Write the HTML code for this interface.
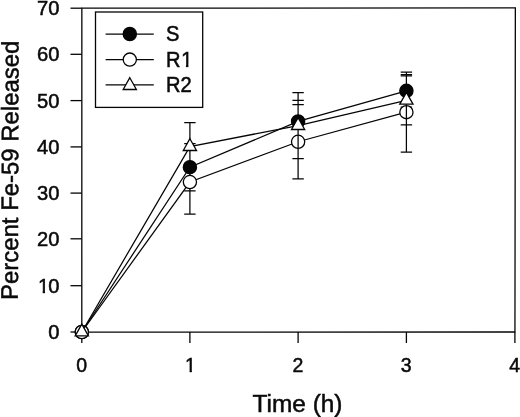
<!DOCTYPE html>
<html><head><meta charset="utf-8"><title>Percent Fe-59 Released vs Time</title>
<style>html,body{margin:0;padding:0;background:#fff}body{width:520px;height:417px;overflow:hidden}</style></head>
<body>
<svg width="520" height="417" viewBox="0 0 520 417" style="display:block">
<rect width="520" height="417" fill="#fff"/>
<g fill="none" stroke="#050505" stroke-width="1.3">
<path d="M81.85 8.2 L515.35 7.8 L514.95 332 L81.8 332.15 Z" stroke-linejoin="miter"/>
<line x1="81.8" y1="332.0" x2="81.8" y2="343.0"/>
<line x1="189.9" y1="332.0" x2="189.9" y2="343.0"/>
<line x1="298.1" y1="332.0" x2="298.1" y2="343.0"/>
<line x1="406.4" y1="332.0" x2="406.4" y2="343.0"/>
<line x1="514.9" y1="332.0" x2="514.9" y2="343.0"/>
<line x1="70.5" y1="332.0" x2="81.8" y2="332.0"/>
<line x1="70.5" y1="285.7" x2="81.8" y2="285.7"/>
<line x1="70.5" y1="238.8" x2="81.8" y2="238.8"/>
<line x1="70.5" y1="193.1" x2="81.8" y2="193.1"/>
<line x1="70.5" y1="146.9" x2="81.8" y2="146.9"/>
<line x1="70.5" y1="100.6" x2="81.8" y2="100.6"/>
<line x1="70.5" y1="54.3" x2="81.8" y2="54.3"/>
<line x1="70.5" y1="8.2" x2="81.8" y2="8.2"/>
</g>
<g font-family="'Liberation Sans', Arial, sans-serif" font-size="19.5" fill="#0a0a0a" stroke="#0a0a0a" stroke-width="0.5">
<text transform="translate(59.4,339.0) scale(1.035,1)" text-anchor="end">0</text>
<clipPath id="c1"><rect x="39.11" y="277.11" width="6.20" height="13.89"/><rect x="42.70" y="290.41" width="2.32" height="3.25"/></clipPath><g clip-path="url(#c1)"><text transform="translate(37.90,292.71) scale(1.035,1)" font-size="19.5">1</text></g>
<text transform="translate(59.4,292.7) scale(1.035,1)" text-anchor="end">0</text>
<text transform="translate(59.4,245.8) scale(1.035,1)" text-anchor="end">20</text>
<text transform="translate(59.4,200.1) scale(1.035,1)" text-anchor="end">30</text>
<text transform="translate(59.4,153.9) scale(1.035,1)" text-anchor="end">40</text>
<text transform="translate(59.4,107.6) scale(1.035,1)" text-anchor="end">50</text>
<text transform="translate(59.4,61.3) scale(1.035,1)" text-anchor="end">60</text>
<text transform="translate(59.4,15.0) scale(1.035,1)" text-anchor="end">70</text>
<text x="81.6" y="371.8" text-anchor="middle">0</text>
<clipPath id="c2"><rect x="186.17" y="356.20" width="6.00" height="13.89"/><rect x="189.62" y="369.50" width="2.25" height="3.25"/></clipPath><g clip-path="url(#c2)"><text transform="translate(185.00,371.80)" font-size="19.5">1</text></g>
<text x="297.9" y="371.8" text-anchor="middle">2</text>
<text x="406.2" y="371.8" text-anchor="middle">3</text>
<text x="514.7" y="371.8" text-anchor="middle">4</text>
</g>
<g font-family="'Liberation Sans', Arial, sans-serif" font-size="24" fill="#0a0a0a" stroke="#0a0a0a" stroke-width="0.5">
<text transform="translate(297.5,411.6) scale(1.018,1)" text-anchor="middle">Time (h)</text>
<text transform="translate(18.2,170.3) rotate(-89.85)" font-size="23.93" text-anchor="middle">Percent Fe-59 Released</text>
</g>
<polyline points="81.8,332.00 189.9,167.22 298.1,121.40 406.4,90.85" fill="none" stroke="#050505" stroke-width="1.25"/>
<path d="M189.9 143.62 V190.83 M184.2 143.62 H195.6 M184.2 190.83 H195.6" fill="none" stroke="#050505" stroke-width="1.25"/>
<path d="M298.1 100.34 V142.46 M292.4 100.34 H303.8 M292.4 142.46 H303.8" fill="none" stroke="#050505" stroke-width="1.25"/>
<path d="M406.4 74.65 V107.05 M400.7 74.65 H412.1 M400.7 107.05 H412.1" fill="none" stroke="#050505" stroke-width="1.25"/>
<circle cx="81.8" cy="332.00" r="6.6" fill="#050505" stroke="#050505" stroke-width="1.3"/>
<circle cx="189.9" cy="167.22" r="6.6" fill="#050505" stroke="#050505" stroke-width="1.3"/>
<circle cx="298.1" cy="121.40" r="6.6" fill="#050505" stroke="#050505" stroke-width="1.3"/>
<circle cx="406.4" cy="90.85" r="6.6" fill="#050505" stroke="#050505" stroke-width="1.3"/>
<polyline points="81.8,332.00 189.9,182.03 298.1,141.77 406.4,112.14" fill="none" stroke="#050505" stroke-width="1.25"/>
<path d="M189.9 190.83 V214.20 M184.2 149.87 H195.6 M184.2 214.20 H195.6" fill="none" stroke="#050505" stroke-width="1.25"/>
<path d="M298.1 142.46 V178.79 M292.4 104.74 H303.8 M292.4 178.79 H303.8" fill="none" stroke="#050505" stroke-width="1.25"/>
<path d="M406.4 72.11 V74.65 M406.4 107.05 V152.18 M400.7 72.11 H412.1 M400.7 152.18 H412.1" fill="none" stroke="#050505" stroke-width="1.25"/>
<circle cx="81.8" cy="332.00" r="6.6" fill="#fff" stroke="#050505" stroke-width="1.3"/>
<circle cx="189.9" cy="182.03" r="6.6" fill="#fff" stroke="#050505" stroke-width="1.3"/>
<circle cx="298.1" cy="141.77" r="6.6" fill="#fff" stroke="#050505" stroke-width="1.3"/>
<circle cx="406.4" cy="112.14" r="6.6" fill="#fff" stroke="#050505" stroke-width="1.3"/>
<polyline points="81.8,332.00 189.9,146.58 298.1,125.57 406.4,100.29" fill="none" stroke="#050505" stroke-width="1.25"/>
<path d="M189.9 122.51 V143.62 M184.2 122.51 H195.6 M184.2 170.65 H195.6" fill="none" stroke="#050505" stroke-width="1.25"/>
<path d="M298.1 92.52 V100.34 M298.1 135.17 V148.37 M292.4 92.52 H303.8 M292.4 158.61 H303.8" fill="none" stroke="#050505" stroke-width="1.25"/>
<path d="M406.4 105.54 V118.74 M400.7 75.76 H412.1 M400.7 124.83 H412.1" fill="none" stroke="#050505" stroke-width="1.25"/>
<path d="M81.8 324.1 L88.4 335.9 L75.2 335.9 Z" fill="#fff" stroke="#050505" stroke-width="1.3" stroke-linejoin="miter"/>
<path d="M189.9 138.7 L196.5 150.5 L183.3 150.5 Z" fill="#fff" stroke="#050505" stroke-width="1.3" stroke-linejoin="miter"/>
<path d="M298.1 117.7 L304.7 129.5 L291.5 129.5 Z" fill="#fff" stroke="#050505" stroke-width="1.3" stroke-linejoin="miter"/>
<path d="M406.4 92.4 L413.0 104.2 L399.8 104.2 Z" fill="#fff" stroke="#050505" stroke-width="1.3" stroke-linejoin="miter"/>
<rect x="95.5" y="12" width="107.2" height="95.4" fill="#fff" stroke="#050505" stroke-width="1.3"/>
<line x1="105.6" y1="34" x2="153.8" y2="34" stroke="#050505" stroke-width="1.25"/>
<circle cx="129.8" cy="34.00" r="6.6" fill="#050505" stroke="#050505" stroke-width="1.3"/>
<g font-family="'Liberation Sans', Arial, sans-serif" font-size="21.2" fill="#0a0a0a" stroke="#0a0a0a" stroke-width="0.5">
<text transform="translate(165.9,41.1) scale(0.95,1)">S</text>
</g>
<line x1="105.6" y1="59.6" x2="153.8" y2="59.6" stroke="#050505" stroke-width="1.25"/>
<circle cx="129.8" cy="59.60" r="6.6" fill="#fff" stroke="#050505" stroke-width="1.3"/>
<g font-family="'Liberation Sans', Arial, sans-serif" font-size="21.2" fill="#0a0a0a" stroke="#0a0a0a" stroke-width="0.5">
<text transform="translate(165.9,66.6) scale(0.95,1)">R</text>
<clipPath id="c3"><rect x="182.17" y="49.64" width="6.50" height="15.13"/><rect x="185.95" y="64.14" width="2.41" height="3.41"/></clipPath><g clip-path="url(#c3)"><text transform="translate(180.90,66.60)" font-size="21.2">1</text></g>
</g>
<line x1="105.6" y1="84.9" x2="153.8" y2="84.9" stroke="#050505" stroke-width="1.25"/>
<path d="M129.8 77.7 L136.4 89.5 L123.2 89.5 Z" fill="#fff" stroke="#050505" stroke-width="1.3" stroke-linejoin="miter"/>
<g font-family="'Liberation Sans', Arial, sans-serif" font-size="21.2" fill="#0a0a0a" stroke="#0a0a0a" stroke-width="0.5">
<text transform="translate(165.9,92.3) scale(0.95,1)">R2</text>
</g>
</svg>
</body></html>
